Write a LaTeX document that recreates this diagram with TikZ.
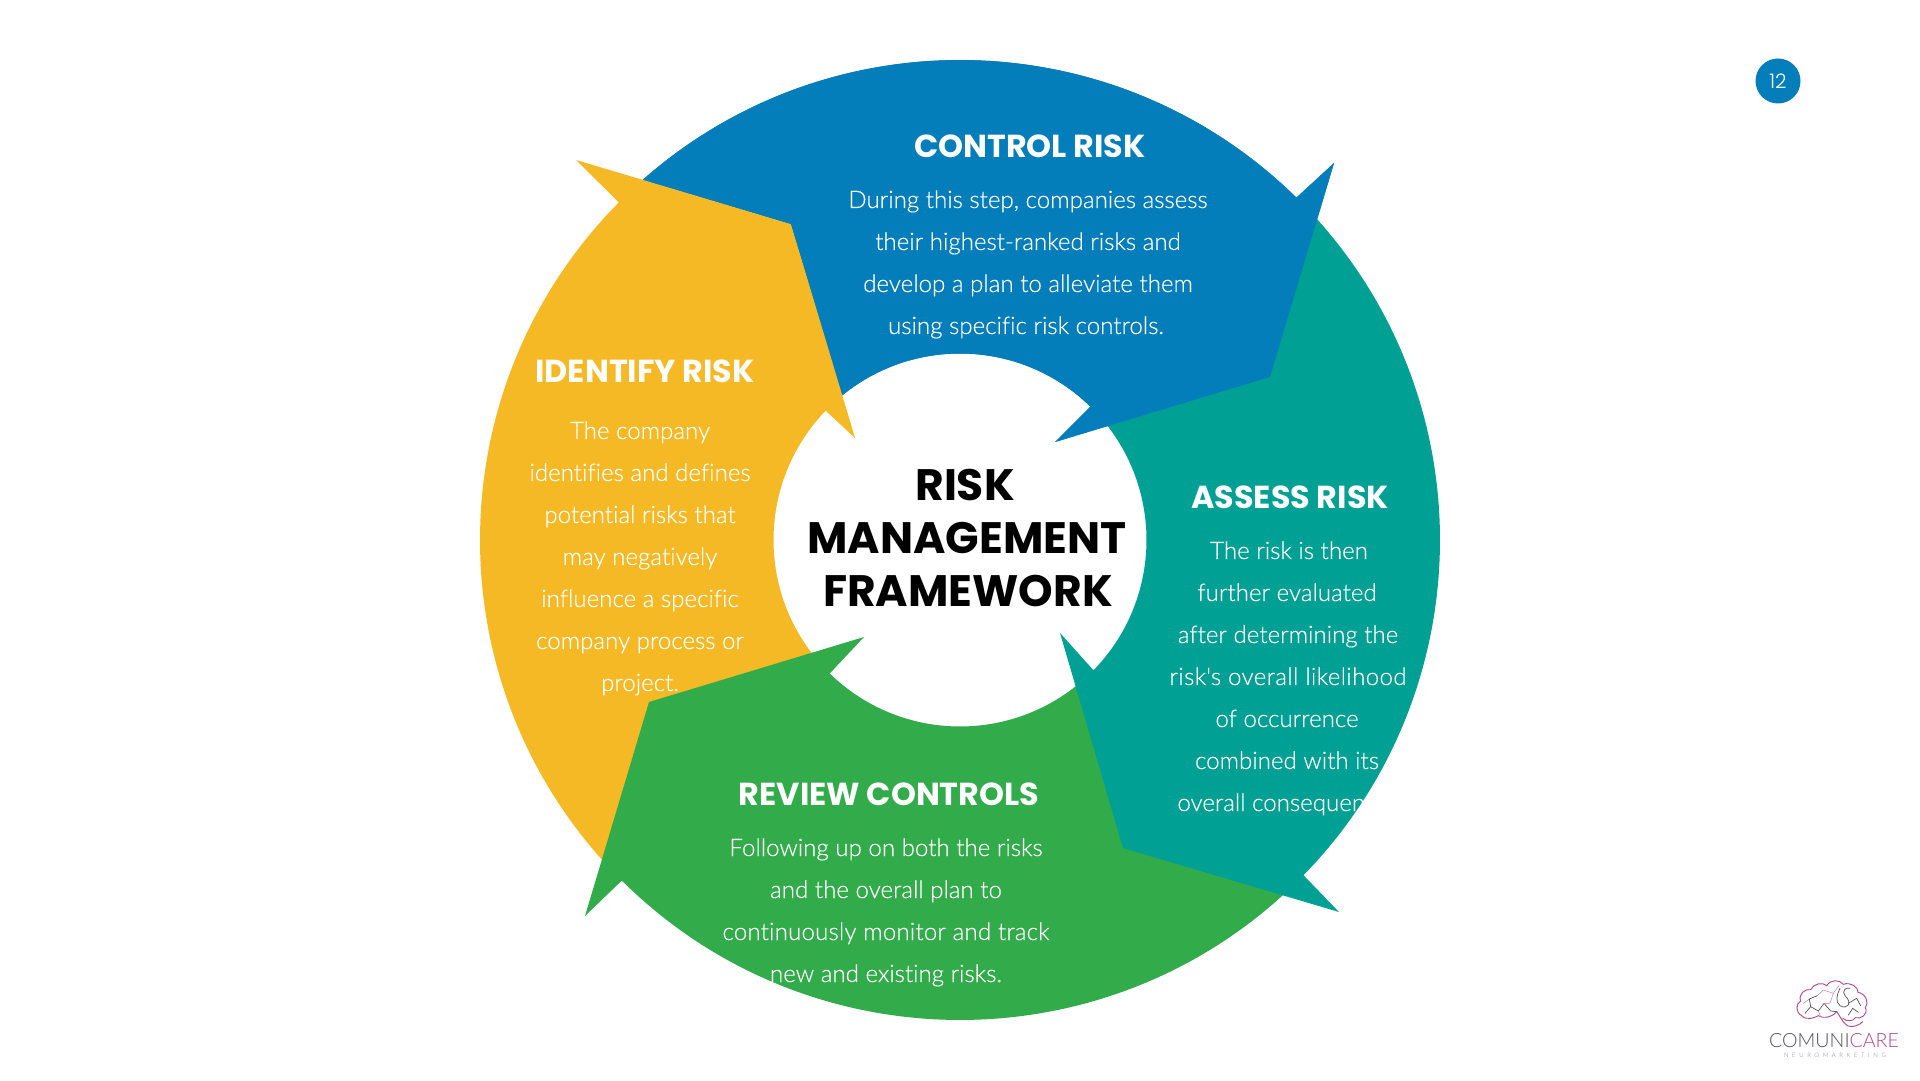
\documentclass[tikz,border=0pt]{standalone}
\usepackage{fontspec}
\setmainfont{Lato Light}[Ligatures=NoCommon,FakeBold=0.25]
\newfontfamily\headfont{Poppins}[BoldFont={Poppins Bold}]
\newfontfamily\pagefont{Poppins Light}
\newfontfamily\logofont{Lato Light}
\begin{document}
\begin{tikzpicture}[x=1pt,y=1pt,
  body/.style={text=white,font=\fontsize{24.1}{24}\selectfont,inner sep=0pt,anchor=base},
  head/.style={text=white,font=\headfont\bfseries\fontsize{31.8}{32}\selectfont,inner sep=0pt,anchor=base},
  title/.style={text=black,font=\headfont\bfseries\fontsize{44}{44}\selectfont,inner sep=0pt,anchor=base},
  brain/.style={draw=logomag,line width=.9pt,line cap=round,line join=round},
  braindark/.style={draw=logogray,line width=.7pt,line cap=round,line join=round},
  brainin/.style={draw=logomag!70,line width=.5pt,line cap=round}]
\definecolor{cblue}{HTML}{047EBA}
\definecolor{cteal}{HTML}{00A094}
\definecolor{cgreen}{HTML}{32AB4A}
\definecolor{cyellow}{HTML}{F5B926}
\definecolor{logomag}{HTML}{B0468E}
\definecolor{logogray}{HTML}{55505A}
\newcommand{\pxp}[3]{\coordinate (#1) at (#2,{1080-#3});}
\path[use as bounding box] (0,0) rectangle (1920,1080);
\fill[white] (0,0) rectangle (1920,1080);
\pxp{c}{960}{540}
% blue
\pxp{bTip}{1334}{163}\pxp{bElbow}{1270}{377}\pxp{bIn}{1055}{442}
\pxp{bUnder}{1265}{372}
% yellow
\pxp{yTip}{576}{160}\pxp{yElbow}{791}{224}\pxp{yIn}{855}{438}
\pxp{yUnder}{786}{229}
% green
\pxp{gTip}{585}{916}\pxp{gElbow}{649}{702}\pxp{gIn}{864}{637}
\pxp{gUnder}{654}{707}
% teal
\pxp{tTip}{1339}{912}\pxp{tElbow}{1123}{848}\pxp{tIn}{1060}{633}
\pxp{tUnder}{1128}{843}
% blue, first pass with its tail running on under the yellow arrow
\fill[cblue] ([shift={(132.5:480)}]c) arc[start angle=132.5,end angle=45.5,radius=480]
   -- (bTip) -- (bElbow) -- (bIn) -- ([shift={(45.6:186.5)}]c)
   arc[start angle=45.6,end angle=131,radius=186.5] -- (yUnder) -- cycle;
% yellow
\fill[cyellow] ([shift={(135.3:480)}]c) arc[start angle=135.3,end angle=223,radius=480]
   -- (gUnder) -- ([shift={(219:186.5)}]c)
   arc[start angle=219,end angle=136.1,radius=186.5] -- (yIn) -- (yElbow) -- (yTip) -- cycle;
% green
\fill[cgreen] ([shift={(225.2:480)}]c) arc[start angle=225.2,end angle=315,radius=480]
   -- (tUnder) -- ([shift={(310:186.5)}]c)
   arc[start angle=310,end angle=225.7,radius=186.5] -- (gIn) -- (gElbow) -- (gTip) -- cycle;
% teal
\fill[cteal] ([shift={(-44.3:480)}]c) arc[start angle=-44.3,end angle=43,radius=480]
   -- (bUnder) -- ([shift={(40:186.5)}]c)
   arc[start angle=40,end angle=-44.3,radius=186.5] -- (tIn) -- (tElbow) -- (tTip) -- cycle;
% blue head again, over the teal tail
\fill[cblue] ([shift={(131.3:480)}]c) arc[start angle=131.3,end angle=45.5,radius=480]
   -- (bTip) -- (bElbow) -- (bIn) -- ([shift={(45.6:186.5)}]c)
   arc[start angle=45.6,end angle=128.8,radius=186.5] -- (yElbow) -- cycle;
% titles
\node[title] (t1) at (965,{1080-501}) {RISK};
\node[title] (t2) at (967,{1080-554}) {MANAGEMENT};
\node[title] (t3) at (968,{1080-607}) {FRAMEWORK};
\node[head] (h1) at (1030,{1080-158}) {CONTROL RISK};
\node[head] (h2) at (645,{1080-383}) {IDENTIFY RISK};
\node[head] (h3) at (1290,{1080-509}) {ASSESS RISK};
\node[head] (h4) at (889,{1080-805}) {REVIEW CONTROLS};
% control
\node[body] (c1) at (1028,{1080-208}) {During this step, companies assess};
\node[body] (c2) at (1028,{1080-250}) {their highest-ranked risks and};
\node[body] (c3) at (1028,{1080-292}) {develop a plan to alleviate them};
\node[body] (c4) at (1026,{1080-334}) {using specific risk controls.};
% identify
\node[body] (i1) at (640,{1080-439}) {The company};
\node[body] (i2) at (640,{1080-481}) {identifies and defines};
\node[body] (i3) at (640,{1080-523}) {potential risks that};
\node[body] (i4) at (640,{1080-565}) {may negatively};
\node[body] (i5) at (640,{1080-607}) {influence a specific};
\node[body] (i6) at (640,{1080-649}) {company process or};
\node[body] (i7) at (640,{1080-691}) {project.};
% assess
\node[body] (a1) at (1289,{1080-559}) {The risk is then};
\node[body] (a2) at (1287,{1080-601}) {further evaluated};
\node[body] (a3) at (1288,{1080-643}) {after determining the};
\node[body] (a4) at (1288,{1080-685}) {\addfontfeatures{LetterSpace=1.5}risk\textquotesingle s overall likelihood};
\node[body] (a5) at (1287,{1080-727}) {of occurrence};
\node[body] (a6) at (1287,{1080-769}) {combined with its};
\node[body] (a7) at (1291,{1080-811}) {overall consequences.};
% review
\node[body] (r1) at (886,{1080-856}) {Following up on both the risks};
\node[body] (r2) at (886,{1080-898}) {and the overall plan to};
\node[body] (r3) at (886,{1080-940}) {\addfontfeatures{LetterSpace=0.7}continuously monitor and track};
\node[body] (r4) at (886,{1080-982}) {new and existing risks.};
% page number
\node[circle,fill=cblue,minimum size=45pt,inner sep=0pt,text=white,font=\pagefont\fontsize{20}{20}\selectfont] (pg) at (1778,{1080-81}) {12};
% logo brain (pixel coords of a 3x crop at 1790,975)
\begin{scope}[shift={(1790,105)},x=.3333pt,y=-.3333pt]
\draw[brain] (35,122) .. controls (15,112) and (18,85) .. (32,78)
  .. controls (24,58) and (45,40) .. (62,44)
  .. controls (70,26) and (98,20) .. (110,32)
  .. controls (122,12) and (150,14) .. (160,28)
  .. controls (182,20) and (205,36) .. (204,52)
  .. controls (228,56) and (238,84) .. (226,98)
  .. controls (236,118) and (212,134) .. (196,128)
  .. controls (190,140) and (168,140) .. (158,130);
\draw[brain] (35,122) .. controls (50,138) and (75,128) .. (85,122)
  .. controls (100,132) and (125,128) .. (140,110);
\draw[brain] (140,110) .. controls (150,122) and (155,140) .. (172,152) .. controls (185,160) and (210,150) .. (218,140);
\draw[braindark] (150,40) .. controls (140,60) and (135,80) .. (150,92) .. controls (170,105) and (190,85) .. (165,62) .. controls (155,50) and (165,35) .. (180,40);
\draw[braindark] (45,115) -- (62,95) -- (85,108) -- (102,85) -- (122,108) -- (140,110);
\draw[braindark] (62,95) -- (58,72) -- (82,62);
\draw[braindark] (175,85) -- (200,70) -- (212,92);
\draw[braindark] (175,120) -- (188,100) -- (205,112);
\draw[brainin] (82,62) -- (100,45) -- (130,55) -- (120,85) -- (102,85);
\draw[brainin] (40,85) -- (58,72);
\draw[brainin] (130,55) -- (148,30);
\draw[brainin] (85,108) -- (92,125);
\end{scope}
\node[inner sep=0pt,anchor=base,font=\logofont\fontsize{19.6}{20}\selectfont,text=logogray] (lg) at (1834,{1080-1047}) {COMUNI\textcolor{logomag}{CARE}};
\node[inner sep=0pt,anchor=base,font=\logofont\fontsize{6}{6}\selectfont\addfontfeatures{LetterSpace=60},text=gray] (lg2) at (1835,{1080-1057}) {NEUROMARKETING};
\end{tikzpicture}
\end{document}
